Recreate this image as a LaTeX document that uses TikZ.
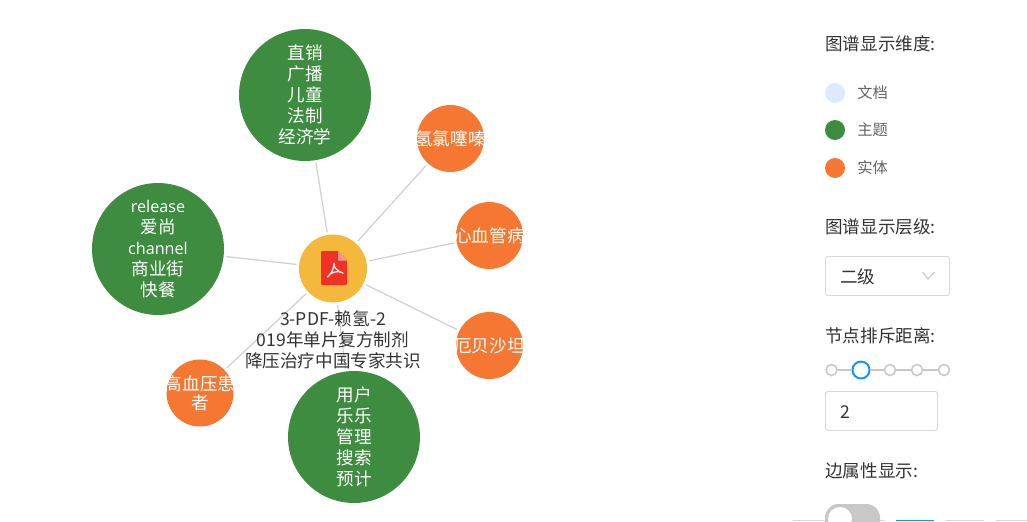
\documentclass[tikz,border=0pt]{standalone}
\usepackage{fontspec}
\setmainfont{Noto Sans CJK SC}
\newfontfamily\latinfont[Scale=0.92]{Open Sans}
\usepackage{xcolor}
\usetikzlibrary{positioning,arrows.meta}
\definecolor{docyellow}{RGB}{243,184,60}
\definecolor{topicgreen}{RGB}{62,140,64}
\definecolor{entityorange}{RGB}{245,119,50}
\definecolor{docblue}{RGB}{220,234,252}
\definecolor{linkgrey}{RGB}{208,208,208}
\definecolor{boxgrey}{RGB}{217,217,217}
\definecolor{knobgrey}{RGB}{200,200,200}
\definecolor{pdfred}{RGB}{240,50,38}
\definecolor{pdfpink}{RGB}{248,150,140}
\definecolor{inkdark}{RGB}{50,50,50}
\definecolor{inkgrey}{RGB}{100,100,100}
\definecolor{sliderblue}{RGB}{24,144,255}
\tikzset{
  topic/.style={circle,fill=topicgreen,text=white,minimum size=2.64cm,inner sep=0pt,align=center,
    font=\fontsize{10}{12}\selectfont},
  entity/.style={circle,fill=entityorange,minimum size=1.34cm,inner sep=0pt},
  entitylabel/.style={text=white,inner sep=0pt,align=center,
    font=\fontsize{10}{11}\selectfont},
  link/.style={draw=linkgrey,line width=0.7pt,shorten <=0.05cm,shorten >=0.05cm},
  legenddot/.style={circle,minimum size=0.4cm,inner sep=0pt},
  legendtext/.style={text=inkgrey,font=\fontsize{8.7}{10}\selectfont,anchor=west,inner sep=0pt},
  paneltitle/.style={text=inkdark,font=\fontsize{10}{11}\selectfont,anchor=west,inner sep=0pt},
  fieldbox/.style={draw=boxgrey,line width=0.5pt,rounded corners=1pt,fill=white},
  sliderdot/.style={circle,draw=knobgrey,fill=white,line width=0.9pt,minimum size=0.22cm,inner sep=0pt},
}
\begin{document}
\begin{tikzpicture}[x=0.02cm,y=-0.02cm]
  \useasboundingbox (0,0) rectangle (1027,521);
  % graph nodes
  \node[circle,fill=docyellow,minimum size=1.36cm,inner sep=0pt] (doc) at (333,268.5) {};
  \node[topic] (zhixiao) at (305,95) {直销\\广播\\儿童\\法制\\经济学};
  \node[topic] (release) at (158,249) {{\latinfont release}\\爱尚\\{\latinfont channel}\\商业街\\快餐};
  \node[topic] (yonghu) at (354,437) {用户\\乐乐\\管理\\搜索\\预计};
  \node[entity,label={[entitylabel]center:氢氯噻嗪}] (qinglv) at (450.5,138.5) {};
  \node[entity,label={[entitylabel]center:心血管病}] (xinxue) at (489.5,235.5) {};
  \node[entity,label={[entitylabel]center:厄贝沙坦}] (ebei) at (489.5,345.5) {};
  \node[entity,label={[entitylabel]center:高血压患\\者}] (gaoxue) at (200,393) {};
  % links
  \foreach \n in {zhixiao,release,yonghu,qinglv,xinxue,ebei,gaoxue}
    \draw[link] (doc) -- (\n);
  % pdf icon
  \fill[pdfred,rounded corners=0.6pt] (321,251) -- (338,251) -- (347,260.5) -- (347,285) -- (321,285) -- cycle;
  \fill[pdfpink] (338,251) -- (347,260.5) -- (338,260.5) -- cycle;
  \draw[white!88!pdfred,line width=0.75pt,line join=round]
    (334,263) .. controls (334,269) and (331,274) .. (327.5,277)
    .. controls (331,272) and (337,270) .. (343,273)
    .. controls (339,272) and (333,268) .. (334,263);
  \node[text=inkdark,align=center,font=\fontsize{10}{12}\selectfont,inner sep=0pt] (doclabel) at (333,340)
    {3-PDF-赖氢-2\\019年单片复方制剂\\降压治疗中国专家共识};
  % right panel
  \node[paneltitle] (dimtitle) at (825,44) {图谱显示维度:};
  \node[legenddot,fill=docblue] (dotdoc) at (835,93) {};
  \node[legenddot,fill=topicgreen] (dottopic) at (835,130) {};
  \node[legenddot,fill=entityorange] (dotentity) at (835,168) {};
  \node[legendtext] (txtdoc) at (857,93) {文档};
  \node[legendtext] (txttopic) at (857,130) {主题};
  \node[legendtext] (txtentity) at (857,168) {实体};
  \node[paneltitle] (leveltitle) at (825,227) {图谱显示层级:};
  \draw[fieldbox] (825.5,256.5) rectangle (949.5,295.5);
  \node[paneltitle] (levelval) at (840,277) {二级};
  \draw[knobgrey,line width=0.6pt] (922.5,272) -- (928,279) -- (934.5,272);
  \node[paneltitle] (sptitle) at (825,336) {节点排斥距离:};
  \node[sliderdot] (s1) at (831.5,370) {};
  \node[sliderdot,draw=sliderblue,minimum size=0.34cm,line width=1.1pt] (s2) at (861,370) {};
  \node[sliderdot] (s3) at (890,370) {};
  \node[sliderdot] (s4) at (917,370) {};
  \node[sliderdot] (s5) at (944,370) {};
  \draw[knobgrey,line width=0.9pt] (s1) -- (s2) (s2) -- (s3) (s3) -- (s4) (s4) -- (s5);
  \draw[fieldbox] (825.5,391.5) rectangle (937.5,430.5);
  \node[paneltitle] (spval) at (840,412) {2};
  \node[paneltitle] (edgetitle) at (825,471) {边属性显示:};
  % toggle and cut-off buttons
  \begin{scope}
    \clip (780,495) rectangle (1027,521);
    \fill[boxgrey] (793,520) rectangle (885,521);
    \fill[knobgrey,rounded corners=0.27cm] (825,504) rectangle (880,540);
    \fill[white] (840,519) circle (12);
    \fill[sliderblue] (896,519.5) rectangle (934,521);
    \fill[boxgrey] (946,520) rectangle (984,521);
    \fill[boxgrey] (996,520) rectangle (1027,521);
  \end{scope}
\end{tikzpicture}
\end{document}
